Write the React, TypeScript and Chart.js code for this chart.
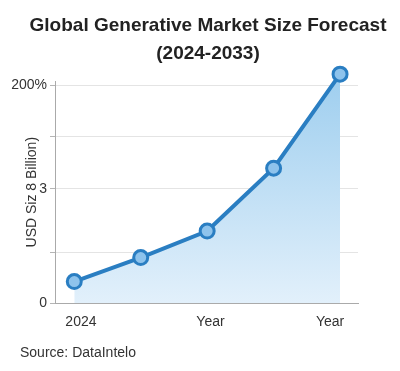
import { useEffect, useRef } from 'react';
import { Chart, registerables } from 'chart.js';

Chart.register(...registerables);

// ---- data ----
const pointIndex = [0, 1, 2, 3, 4];
const marketSize = [0.59, 1.25, 1.98, 3.71, 6.3];
const xTickValues = [0.1, 2.05, 3.85];
const xTickLabels = ['2024', 'Year', 'Year'];
const yTickValues = [0, 1.38, 3.14, 4.57, 6];
const yTickLabels = ['0', '', '3', '', '200%'];
const titleLines = ['Global Generative Market Size Forecast', '(2024-2033)'];
const yAxisTitle = 'USD Siz 8 Billion)';
const sourceText = 'Source: DataIntelo';

const FONT = "'Liberation Sans', Arial, Helvetica, sans-serif";

const shiftTextPlugin = {
  id: 'shiftText',
  afterLayout(chart: any) {
    const tb = chart.titleBlock;
    if (tb) tb.left = 16;
    chart.boxes.forEach((b: any) => {
      if (b !== tb && b.position === 'bottom' && b.options && b.options.text === sourceText) {
        b.left = 20;
      }
    });
  },
};

export default function App() {
  const ref = useRef<HTMLCanvasElement | null>(null);

  useEffect(() => {
    if (!ref.current) return;
    const chart = new Chart(ref.current, {
      type: 'line',
      data: {
        datasets: [
          {
            data: pointIndex.map((x, i) => ({ x, y: marketSize[i] })),
            borderColor: '#2a7ec2',
            borderWidth: 4,
            tension: 0,
            fill: 'origin',
            clip: false as any,
            backgroundColor: (ctx: any) => {
              const { chart } = ctx;
              const area = chart.chartArea;
              if (!area) return 'rgba(170,210,240,0.6)';
              const g = chart.ctx.createLinearGradient(0, area.top, 0, area.bottom);
              g.addColorStop(0, '#a0cfef');
              g.addColorStop(1, '#e2f0fb');
              return g;
            },
            pointRadius: 7,
            pointHoverRadius: 7,
            pointBorderWidth: 3,
            pointBackgroundColor: '#8ec3ec',
            pointBorderColor: '#2a7ec2',
          },
        ],
      },
      plugins: [shiftTextPlugin],
      options: {
        responsive: false,
        animation: false,
        layout: { padding: { left: 0, right: 0, top: 0, bottom: 0 } },
        plugins: {
          legend: { display: false },
          tooltip: { enabled: false },
          title: {
            display: true,
            text: titleLines,
            color: '#222',
            font: { family: FONT, size: 19, weight: 'bold', lineHeight: 28 / 19 },
            padding: { top: 12, bottom: 13.4 },
          },
          subtitle: {
            display: true,
            position: 'bottom',
            align: 'start',
            text: sourceText,
            color: '#333',
            font: { family: FONT, size: 14, weight: 'normal', lineHeight: 1.2 },
            padding: { top: 2.8, bottom: 9.6 },
          },
        },
        scales: {
          x: {
            type: 'linear',
            min: -0.29,
            max: 4.27,
            afterBuildTicks: (scale: any) => {
              scale.ticks = xTickValues.map((v) => ({ value: v }));
            },
            grid: { display: false, drawTicks: false },
            border: { display: true, color: '#aaa', width: 1 },
            ticks: {
              autoSkip: false,
              maxRotation: 0,
              padding: 11,
              color: '#333',
              font: { family: FONT, size: 14 },
              callback: (_v: any, i: number) => xTickLabels[i],
            },
          },
          y: {
            type: 'linear',
            min: 0,
            max: 6.1,
            afterBuildTicks: (scale: any) => {
              scale.ticks = yTickValues.map((v) => ({ value: v }));
            },
            afterFit: (scale: any) => {
              scale.width = 55;
            },
            ticks: {
              padding: 3,
              color: '#333',
              font: { family: FONT, size: 14 },
              callback: (_v: any, i: number) => yTickLabels[i],
            },
            grid: { color: '#e4e4e4', tickColor: '#b5b5b5', tickLength: 5, lineWidth: 1 },
            border: { display: true, color: '#aaa', width: 1 },
            title: {
              display: true,
              text: yAxisTitle,
              color: '#333',
              font: { family: FONT, size: 14 },
              padding: { top: 24, bottom: 0 },
            },
          },
          yRight: {
            type: 'linear',
            position: 'right',
            display: true,
            afterFit: (scale: any) => {
              scale.width = 42;
            },
            grid: { display: false, drawTicks: false },
            border: { display: false },
            ticks: { display: false },
          },
        },
      } as any,
    });
    return () => chart.destroy();
  }, []);

  return (
    <div style={{ position: 'absolute', left: 0, top: 0, width: 400, height: 371, background: '#fff' }}>
      <canvas ref={ref} width={400} height={371} />
    </div>
  );
}
